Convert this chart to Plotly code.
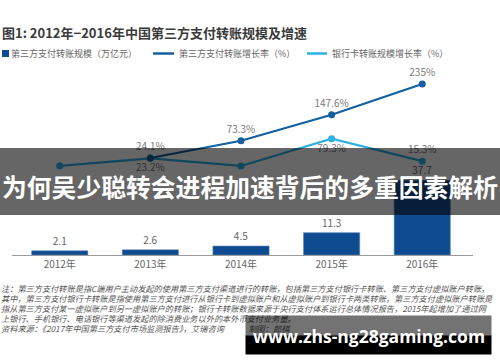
import plotly.graph_objects as go

# ---- data ----
years = ["2012年", "2013年", "2014年", "2015年", "2016年"]
transfer_scale = [2.1, 2.6, 4.5, 11.3, 37.7]          # 第三方支付转账规模（万亿元）
transfer_growth = [None, 24.1, 73.3, 147.6, 235.0]    # 第三方支付转账增长率（%）
bank_growth = [2.0, 23.2, 1.5, 79.3, 15.3]            # 银行卡转账规模增长率（%）
transfer_growth_labels = ["", "24.1%", "73.3%", "147.6%", "235%"]
bank_growth_labels = ["", "23.2%", "", "79.3%", "15.3%"]
scale_labels = ["2.1", "2.6", "4.5", "11.3", "37.7"]

NAVY = "#0f4b90"
DARK = "#12609f"
LIGHT = "#2fb1e3"
FONT = "Noto Sans CJK SC"

W, H = 500, 362
L, R, T, B = 12, 27, 70, 107
PW, PH = W - L - R, H - T - B


def X(px):
    return (px - L) / PW


def Y(py):
    return (H - B - py) / PH


xs = list(range(len(years)))

fig = go.Figure()
fig.add_trace(go.Bar(
    x=xs, y=transfer_scale, width=0.62,
    marker=dict(color=NAVY, line=dict(color="#5a86b8", width=0.6)),
    text=scale_labels, textposition="outside", cliponaxis=False,
    textfont=dict(family=FONT, size=10, color="#666666"),
    yaxis="y", name="第三方支付转账规模（万亿元）",
))
fig.add_trace(go.Scatter(
    x=xs, y=bank_growth, mode="lines+markers+text",
    line=dict(color=LIGHT, width=2.2), marker=dict(color=LIGHT, size=7),
    text=bank_growth_labels,
    textposition=["bottom center", "bottom center", "bottom center", "bottom center", "top center"],
    textfont=dict(family=FONT, size=10, color="#7a7a7a"),
    yaxis="y2", cliponaxis=False, name="银行卡转账规模增长率（%）",
))
fig.add_trace(go.Scatter(
    x=xs, y=transfer_growth, mode="lines+markers+text",
    line=dict(color=DARK, width=2.2), marker=dict(color=DARK, size=7),
    text=transfer_growth_labels, textposition="top center",
    textfont=dict(family=FONT, size=10, color="#7a7a7a"),
    yaxis="y2", cliponaxis=False, name="第三方支付转账增长率（%）",
))

shapes = [
    # legend swatches
    dict(type="rect", xref="paper", yref="paper", x0=X(2), x1=X(9), y0=Y(57), y1=Y(50),
         fillcolor=NAVY, line=dict(width=0)),
    dict(type="line", xref="paper", yref="paper", x0=X(153), x1=X(174), y0=Y(53.5), y1=Y(53.5),
         line=dict(color=DARK, width=2.5)),
    dict(type="line", xref="paper", yref="paper", x0=X(307), x1=X(327), y0=Y(53.5), y1=Y(53.5),
         line=dict(color=LIGHT, width=2.5)),
    # grey banner over the chart
    dict(type="rect", xref="paper", yref="paper", x0=X(0), x1=X(500), y0=Y(215), y1=Y(148),
         fillcolor="rgba(0,0,0,0.6)", line=dict(width=0), layer="above"),
]

ann = []


def text(px, py, s, size, color, xanchor="left", bold=False, family=FONT, **kw):
    if bold:
        s = "<b>" + s + "</b>"
    ann.append(dict(xref="paper", yref="paper", x=X(px), y=Y(py), text=s, showarrow=False,
                    xanchor=xanchor, yanchor="middle",
                    font=dict(family=family, size=size, color=color), **kw))


text(0, 32, "图1: 2012年−2016年中国第三方支付转账规模及增速", 13, "#3a3a3a", bold=True)
text(9, 53.5, "第三方支付转账规模（万亿元）", 9, "#666666")
text(177, 53.5, "第三方支付转账增长率（%）", 9, "#666666")
text(330, 53.5, "银行卡转账规模增长率（%）", 9, "#666666")

notes = [
    "注：第三方支付转账是指C端用户主动发起的使用第三方支付渠道进行的转账，包括第三方支付银行卡转账、第三方支付虚拟账户转账，",
    "其中，第三方支付银行卡转账是指使用第三方支付进行从银行卡到虚拟账户和从虚拟账户到银行卡两类转账，第三方支付虚拟账户转账是",
    "指从第三方支付某一虚拟账户到另一虚拟账户的转账；银行卡转账数据来源于央行支付体系运行总体情况报告，2015年起增加了通过网",
    "上银行、手机银行、电话银行等渠道发起的除消费业务以外的本外币支付业务量。",
    "资料来源：《2017年中国第三方支付市场监测报告》，艾瑞咨询　　　制图：郎棋",
]
for i, s in enumerate(notes):
    text(-1, 288 + 10 * i, "<i>" + s + "</i>", 8.2, "#555555")

# banner headline
text(250, 186, "为何吴少聪转会进程加速背后的多重因素解析", 24.8, "#ffffff", xanchor="center", bold=True)

# bottom watermark bands (annotations so they cover the note text)
ann.append(dict(xref="paper", yref="paper", x=X(245), y=Y(315), xanchor="left", yanchor="top",
                text="", showarrow=False, width=245, height=20, bgcolor="rgba(0,0,0,0.55)",
                borderpad=0))
ann.append(dict(xref="paper", yref="paper", x=X(245), y=Y(335), xanchor="left", yanchor="top",
                text="", showarrow=False, width=245, height=18, bgcolor="#000000",
                borderpad=0))
text(369, 336, "www.zhs-ng28gaming.com", 17.5, "#ffffff", xanchor="center", bold=True,
     family="Open Sans")

fig.update_layout(
    width=W, height=H,
    margin=dict(l=L, r=R, t=T, b=B),
    paper_bgcolor="white", plot_bgcolor="white",
    showlegend=False,
    bargap=0.3,
    xaxis=dict(range=[-0.527, 4.56], tickvals=xs, ticktext=years, showgrid=False,
               zeroline=False, showline=True, linecolor="#9a9a9a", linewidth=1,
               ticks="", tickfont=dict(family=FONT, size=10, color="#666666"),
               fixedrange=True),
    yaxis=dict(range=[0, PH / 1.98], visible=False, showgrid=False),
    yaxis2=dict(range=[-88.5 / 0.351, (166.5 - T) / 0.351], overlaying="y", visible=False,
                showgrid=False),
    shapes=shapes,
    annotations=ann,
)

fig.write_html("out.html", config={"displayModeBar": False},
               post_script="document.body.style.margin='0';")
